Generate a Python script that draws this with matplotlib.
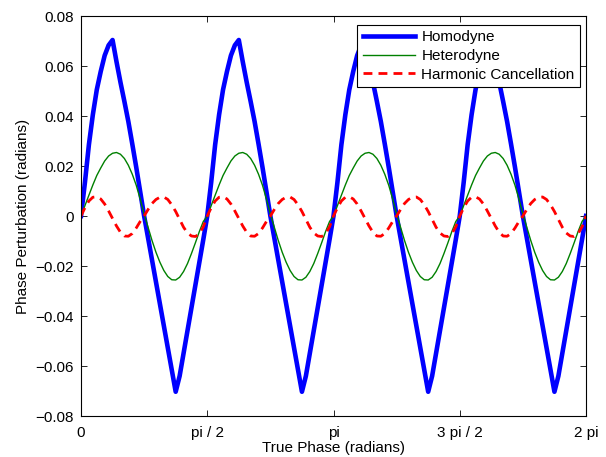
import matplotlib.pyplot as plt
import numpy as np

plt.rcParams['font.family'] = ['Liberation Sans', 'DejaVu Sans']

# True phase samples, pi/64 apart from 0 to 2 pi
phase = np.linspace(0, 2 * np.pi, 129)

# Phase perturbation (radians), one line per pi/2 cycle
homodyne = [
    0, 0.0135, 0.0285, 0.0405, 0.0505, 0.0578, 0.0642, 0.0683, 0.0704, 0.0617, 0.0535, 0.0458, 0.0378, 0.0288, 0.0195, 0.0098,
    0.0, -0.0088, -0.0176, -0.0264, -0.0352, -0.0440, -0.0528, -0.0616, -0.0703, -0.0640, -0.0549, -0.0458, -0.0367, -0.0276, -0.0185, -0.0094,
    0, 0.0135, 0.0285, 0.0405, 0.0505, 0.0578, 0.0642, 0.0683, 0.0704, 0.0617, 0.0535, 0.0458, 0.0378, 0.0288, 0.0195, 0.0098,
    0.0, -0.0088, -0.0176, -0.0264, -0.0352, -0.0440, -0.0528, -0.0616, -0.0703, -0.0640, -0.0549, -0.0458, -0.0367, -0.0276, -0.0185, -0.0094,
    0, 0.0135, 0.0285, 0.0405, 0.0505, 0.0578, 0.0642, 0.0683, 0.0704, 0.0617, 0.0535, 0.0458, 0.0378, 0.0288, 0.0195, 0.0098,
    0.0, -0.0088, -0.0176, -0.0264, -0.0352, -0.0440, -0.0528, -0.0616, -0.0703, -0.0640, -0.0549, -0.0458, -0.0367, -0.0276, -0.0185, -0.0094,
    0, 0.0135, 0.0285, 0.0405, 0.0505, 0.0578, 0.0642, 0.0683, 0.0704, 0.0617, 0.0535, 0.0458, 0.0378, 0.0288, 0.0195, 0.0098,
    0.0, -0.0088, -0.0176, -0.0264, -0.0352, -0.0440, -0.0528, -0.0616, -0.0703, -0.0640, -0.0549, -0.0458, -0.0367, -0.0276, -0.0185, -0.0094,
    0,
]

heterodyne = [
    0, 0.0042, 0.0083, 0.0124, 0.0162, 0.0192, 0.0220, 0.0240, 0.0251, 0.0254, 0.0247, 0.0230, 0.0203, 0.0167, 0.0123, 0.0068,
    0.0008, -0.0045, -0.0098, -0.0145, -0.0185, -0.0218, -0.0242, -0.0255, -0.0256, -0.0245, -0.0222, -0.0190, -0.0150, -0.0107, -0.0062, -0.0022,
    0, 0.0042, 0.0083, 0.0124, 0.0162, 0.0192, 0.0220, 0.0240, 0.0251, 0.0254, 0.0247, 0.0230, 0.0203, 0.0167, 0.0123, 0.0068,
    0.0008, -0.0045, -0.0098, -0.0145, -0.0185, -0.0218, -0.0242, -0.0255, -0.0256, -0.0245, -0.0222, -0.0190, -0.0150, -0.0107, -0.0062, -0.0022,
    0, 0.0042, 0.0083, 0.0124, 0.0162, 0.0192, 0.0220, 0.0240, 0.0251, 0.0254, 0.0247, 0.0230, 0.0203, 0.0167, 0.0123, 0.0068,
    0.0008, -0.0045, -0.0098, -0.0145, -0.0185, -0.0218, -0.0242, -0.0255, -0.0256, -0.0245, -0.0222, -0.0190, -0.0150, -0.0107, -0.0062, -0.0022,
    0, 0.0042, 0.0083, 0.0124, 0.0162, 0.0192, 0.0220, 0.0240, 0.0251, 0.0254, 0.0247, 0.0230, 0.0203, 0.0167, 0.0123, 0.0068,
    0.0008, -0.0045, -0.0098, -0.0145, -0.0185, -0.0218, -0.0242, -0.0255, -0.0256, -0.0245, -0.0222, -0.0190, -0.0150, -0.0107, -0.0062, -0.0022,
    0,
]

harmonic_cancellation = [
    0, 0.0033, 0.0060, 0.0075, 0.0077, 0.0068, 0.0048, 0.0020, -0.0010, -0.0040, -0.0065, -0.0080, -0.0081, -0.0070, -0.0048, -0.0022,
    0, 0.0026, 0.0050, 0.0066, 0.0075, 0.0076, 0.0066, 0.0045, 0.0018, -0.0014, -0.0045, -0.0068, -0.0080, -0.0082, -0.0071, -0.0043,
    0, 0.0033, 0.0060, 0.0075, 0.0077, 0.0068, 0.0048, 0.0020, -0.0010, -0.0040, -0.0065, -0.0080, -0.0081, -0.0070, -0.0048, -0.0022,
    0, 0.0026, 0.0050, 0.0066, 0.0075, 0.0076, 0.0066, 0.0045, 0.0018, -0.0014, -0.0045, -0.0068, -0.0080, -0.0082, -0.0071, -0.0043,
    0, 0.0033, 0.0060, 0.0075, 0.0077, 0.0068, 0.0048, 0.0020, -0.0010, -0.0040, -0.0065, -0.0080, -0.0081, -0.0070, -0.0048, -0.0022,
    0, 0.0026, 0.0050, 0.0066, 0.0075, 0.0076, 0.0066, 0.0045, 0.0018, -0.0014, -0.0045, -0.0068, -0.0080, -0.0082, -0.0071, -0.0043,
    0, 0.0033, 0.0060, 0.0075, 0.0077, 0.0068, 0.0048, 0.0020, -0.0010, -0.0040, -0.0065, -0.0080, -0.0081, -0.0070, -0.0048, -0.0022,
    0, 0.0026, 0.0050, 0.0066, 0.0075, 0.0076, 0.0066, 0.0045, 0.0018, -0.0014, -0.0045, -0.0068, -0.0080, -0.0082, -0.0071, -0.0043,
    0,
]

x_ticks = [0, np.pi / 2, np.pi, 3 * np.pi / 2, 2 * np.pi]
x_tick_labels = ['0', 'pi / 2', 'pi', '3 pi / 2', '2 pi']
y_ticks = [-0.08, -0.06, -0.04, -0.02, 0, 0.02, 0.04, 0.06, 0.08]
y_tick_labels = ['\u22120.08', '\u22120.06', '\u22120.04', '\u22120.02', '0', '0.02', '0.04', '0.06', '0.08']

fs = 11

fig = plt.figure(figsize=(6.06, 4.57), dpi=100)
ax = fig.add_axes([81 / 606, 1 - 416 / 457, 505 / 606, 400 / 457])

ax.plot(phase, homodyne, color=(0, 0, 1), linewidth=3.3, label='Homodyne')
ax.plot(phase, heterodyne, color=(0, 0.5, 0), linewidth=1.0, label='Heterodyne')
ax.plot(phase, harmonic_cancellation, color=(1, 0, 0), linewidth=2.0,
        linestyle=(0, (3.2, 2.2)), label='Harmonic Cancellation')

ax.set_xlim(0, 2 * np.pi)
ax.set_ylim(-0.08, 0.08)
ax.set_xticks(x_ticks)
ax.set_xticklabels(x_tick_labels)
ax.set_yticks(y_ticks)
ax.set_yticklabels(y_tick_labels)
ax.tick_params(direction='in', top=True, right=True, length=4, width=0.6,
               labelsize=fs)
ax.tick_params(axis='x', pad=7)
ax.tick_params(axis='y', pad=5)
for sp in ax.spines.values():
    sp.set_linewidth(0.8)

ax.set_xlabel('True Phase (radians)', fontsize=fs, labelpad=1)
ax.set_ylabel('Phase Perturbation (radians)', fontsize=fs, labelpad=4)

leg = ax.legend(loc='upper right', bbox_to_anchor=(580 / 606, 1 - 25 / 457),
                bbox_transform=fig.transFigure, borderaxespad=0, fontsize=fs,
                handlelength=3.4, handletextpad=0.45, labelspacing=0.3,
                borderpad=0.35, fancybox=False, framealpha=1, edgecolor='k')
leg.get_frame().set_linewidth(0.8)

fig.savefig('out.png', dpi=100)
